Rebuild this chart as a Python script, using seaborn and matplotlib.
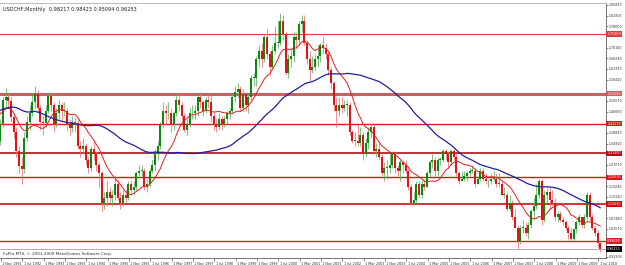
import numpy as np
import pandas as pd
import matplotlib
matplotlib.use("Agg")
import matplotlib.pyplot as plt
import matplotlib.transforms as mtransforms
import seaborn as sns

# ---------------- data ----------------
# monthly closes before the visible range (Sep 1987 - Oct 1991), only used to warm up the moving averages
pre_closes = [1.50, 1.42, 1.31, 1.28,
              1.37, 1.39, 1.37, 1.38, 1.41, 1.47, 1.52, 1.57, 1.55, 1.47, 1.41, 1.50,
              1.60, 1.57, 1.65, 1.71, 1.74, 1.70, 1.62, 1.66, 1.60, 1.62, 1.58, 1.54,
              1.49, 1.49, 1.51, 1.45, 1.43, 1.41, 1.33, 1.30, 1.30, 1.27, 1.26, 1.28,
              1.26, 1.38, 1.44, 1.47, 1.48, 1.56, 1.54, 1.52, 1.46, 1.47]

first_open = 1.47  # open of Nov 1991

# Monthly bars Nov 1991 .. Oct 2010
closes = [1.400, 1.360,
          1.420, 1.510, 1.520, 1.505, 1.445, 1.390, 1.320, 1.265, 1.255, 1.370, 1.430, 1.460,
          1.500, 1.530, 1.480, 1.430, 1.425, 1.470, 1.525, 1.490, 1.420, 1.460, 1.490, 1.470,
          1.470, 1.420, 1.405, 1.430, 1.425, 1.340, 1.330, 1.340, 1.290, 1.260, 1.330, 1.310,
          1.270, 1.240, 1.130, 1.150, 1.170, 1.150, 1.160, 1.200, 1.150, 1.130, 1.160, 1.150,
          1.200, 1.180, 1.190, 1.240, 1.250, 1.250, 1.190, 1.200, 1.250, 1.270, 1.310, 1.340,
          1.420, 1.470, 1.460, 1.460, 1.420, 1.460, 1.510, 1.490, 1.450, 1.400, 1.420, 1.460,
          1.460, 1.470, 1.520, 1.500, 1.470, 1.510, 1.500, 1.450, 1.420, 1.410, 1.440, 1.420,
          1.440, 1.460, 1.470, 1.520, 1.540, 1.550, 1.480, 1.530, 1.490, 1.520, 1.590, 1.590,
          1.660, 1.690, 1.660, 1.740, 1.680, 1.630, 1.690, 1.720, 1.720, 1.800, 1.750, 1.610,
          1.660, 1.670, 1.740, 1.730, 1.790, 1.800, 1.720, 1.660, 1.620, 1.630, 1.660, 1.670,
          1.710, 1.700, 1.680, 1.620, 1.570, 1.490, 1.470, 1.490, 1.480, 1.490, 1.490, 1.390,
          1.360, 1.360, 1.350, 1.380, 1.310, 1.350, 1.390, 1.410, 1.320, 1.330, 1.300, 1.240,
          1.260, 1.260, 1.270, 1.310, 1.260, 1.250, 1.280, 1.270, 1.250, 1.190, 1.130, 1.140,
          1.200, 1.160, 1.200, 1.190, 1.240, 1.280, 1.290, 1.250, 1.290, 1.290, 1.320, 1.310,
          1.280, 1.320, 1.300, 1.240, 1.210, 1.220, 1.230, 1.240, 1.250, 1.250, 1.200, 1.220,
          1.250, 1.220, 1.210, 1.210, 1.220, 1.220, 1.200, 1.200, 1.160, 1.160, 1.110, 1.130,
          1.080, 1.040, 0.990, 1.040, 1.040, 1.020, 1.050, 1.100, 1.120, 1.160, 1.210, 1.070,
          1.160, 1.170, 1.140, 1.130, 1.080, 1.090, 1.070, 1.060, 1.040, 1.020, 1.000, 1.035,
          1.060, 1.080, 1.050, 1.080, 1.160, 1.080, 1.040, 1.020, 0.982, 0.9625]

highs = [1.475, 1.410,
         1.440, 1.520, 1.555, 1.540, 1.520, 1.460, 1.410, 1.340, 1.300, 1.390, 1.450, 1.490,
         1.530, 1.560, 1.545, 1.490, 1.450, 1.490, 1.540, 1.540, 1.500, 1.480, 1.510, 1.500,
         1.500, 1.480, 1.440, 1.450, 1.445, 1.440, 1.360, 1.370, 1.350, 1.300, 1.340, 1.360,
         1.320, 1.280, 1.250, 1.170, 1.210, 1.190, 1.180, 1.230, 1.220, 1.170, 1.180, 1.180,
         1.210, 1.210, 1.210, 1.250, 1.270, 1.270, 1.260, 1.220, 1.260, 1.290, 1.330, 1.360,
         1.430, 1.500, 1.490, 1.500, 1.480, 1.470, 1.530, 1.540, 1.500, 1.460, 1.440, 1.480,
         1.490, 1.490, 1.530, 1.540, 1.510, 1.520, 1.530, 1.530, 1.470, 1.440, 1.460, 1.450,
         1.450, 1.470, 1.480, 1.530, 1.560, 1.570, 1.560, 1.550, 1.540, 1.530, 1.600, 1.610,
         1.670, 1.710, 1.720, 1.750, 1.770, 1.690, 1.710, 1.780, 1.800, 1.829, 1.820, 1.760,
         1.680, 1.700, 1.760, 1.760, 1.800, 1.820, 1.820, 1.730, 1.690, 1.670, 1.680, 1.710,
         1.720, 1.740, 1.720, 1.690, 1.630, 1.580, 1.520, 1.520, 1.520, 1.510, 1.510, 1.500,
         1.400, 1.390, 1.420, 1.410, 1.390, 1.370, 1.410, 1.420, 1.420, 1.350, 1.360, 1.310,
         1.280, 1.290, 1.310, 1.320, 1.320, 1.270, 1.290, 1.290, 1.290, 1.260, 1.200, 1.170,
         1.210, 1.210, 1.210, 1.220, 1.250, 1.290, 1.310, 1.300, 1.300, 1.300, 1.330, 1.330,
         1.320, 1.330, 1.330, 1.310, 1.250, 1.250, 1.250, 1.250, 1.260, 1.270, 1.260, 1.230,
         1.260, 1.260, 1.240, 1.220, 1.240, 1.250, 1.240, 1.240, 1.210, 1.190, 1.170, 1.160,
         1.140, 1.110, 1.050, 1.050, 1.070, 1.060, 1.060, 1.110, 1.150, 1.200, 1.220, 1.220,
         1.180, 1.190, 1.190, 1.180, 1.150, 1.100, 1.100, 1.080, 1.070, 1.050, 1.040, 1.040,
         1.070, 1.090, 1.080, 1.090, 1.170, 1.170, 1.090, 1.050, 1.030, 0.98423]

lows = [1.385, 1.330,
        1.345, 1.410, 1.480, 1.480, 1.430, 1.370, 1.300, 1.240, 1.200, 1.240, 1.360, 1.400,
        1.450, 1.480, 1.460, 1.400, 1.380, 1.410, 1.460, 1.470, 1.390, 1.410, 1.440, 1.430,
        1.450, 1.400, 1.380, 1.390, 1.390, 1.330, 1.300, 1.310, 1.270, 1.240, 1.250, 1.290,
        1.250, 1.190, 1.100, 1.110, 1.120, 1.130, 1.120, 1.140, 1.140, 1.110, 1.120, 1.130,
        1.140, 1.160, 1.160, 1.180, 1.230, 1.230, 1.180, 1.170, 1.190, 1.240, 1.250, 1.290,
        1.330, 1.410, 1.420, 1.440, 1.390, 1.400, 1.450, 1.470, 1.430, 1.390, 1.380, 1.410,
        1.440, 1.440, 1.450, 1.480, 1.450, 1.460, 1.480, 1.430, 1.400, 1.390, 1.400, 1.400,
        1.410, 1.420, 1.440, 1.460, 1.500, 1.520, 1.470, 1.470, 1.470, 1.460, 1.510, 1.560,
        1.560, 1.630, 1.630, 1.650, 1.660, 1.600, 1.620, 1.680, 1.700, 1.710, 1.730, 1.600,
        1.590, 1.630, 1.650, 1.700, 1.710, 1.760, 1.710, 1.640, 1.580, 1.610, 1.620, 1.630,
        1.650, 1.680, 1.660, 1.600, 1.550, 1.470, 1.410, 1.450, 1.460, 1.470, 1.450, 1.380,
        1.350, 1.340, 1.340, 1.340, 1.290, 1.300, 1.330, 1.370, 1.310, 1.300, 1.290, 1.230,
        1.210, 1.220, 1.240, 1.260, 1.240, 1.230, 1.210, 1.240, 1.240, 1.180, 1.125, 1.125,
        1.130, 1.150, 1.150, 1.180, 1.190, 1.230, 1.260, 1.230, 1.230, 1.270, 1.280, 1.290,
        1.260, 1.270, 1.290, 1.230, 1.200, 1.210, 1.210, 1.210, 1.230, 1.240, 1.190, 1.200,
        1.210, 1.210, 1.200, 1.190, 1.200, 1.210, 1.190, 1.190, 1.160, 1.150, 1.100, 1.100,
        1.070, 1.040, 0.960, 0.980, 1.020, 1.010, 1.000, 1.040, 1.070, 1.110, 1.150, 1.050,
        1.060, 1.130, 1.110, 1.120, 1.070, 1.060, 1.060, 1.050, 1.030, 1.000, 0.990, 0.995,
        1.020, 1.050, 1.040, 1.040, 1.070, 1.070, 1.030, 1.010, 0.970, 0.95094]

fast_period = 12
slow_period = 50

level_prices = [1.7520, 1.5325, 1.4227, 1.3130, 1.2251, 1.1263, 0.9909]
level_colors = ["#d84040", "#c86060", "#d02020", "#b01010", "#d01818", "#c81010", "#d82020"]
level_widths = [0.8, 2.2, 1.0, 1.2, 1.0, 1.2, 1.0]
bid_price = 0.96253

ytick_values = [1.8583, 1.8191, 1.7800, 1.7408, 1.7016, 1.6624, 1.6233, 1.5841, 1.5449,
                1.5057, 1.4666, 1.4274, 1.3882, 1.3491, 1.3099, 1.2707, 1.2315, 1.1924,
                1.1532, 1.1140, 1.0748, 1.0357, 0.9965, 0.9573, 0.9330]

xtick_labels = ["1 Nov 1991", "1 Jul 1992", "1 Mar 1993", "1 Nov 1993", "1 Jul 1994",
                "1 Mar 1995", "1 Nov 1995", "1 Jul 1996", "1 Mar 1997", "1 Nov 1997",
                "1 Jul 1998", "1 Mar 1999", "1 Nov 1999", "1 Jul 2000", "1 Mar 2001",
                "1 Nov 2001", "1 Jul 2002", "1 Mar 2003", "1 Nov 2003", "1 Jul 2004",
                "1 Mar 2005", "1 Nov 2005", "1 Jul 2006", "1 Mar 2007", "1 Nov 2007",
                "1 Jul 2008", "1 Mar 2009", "1 Nov 2009", "1 Jul 2010"]

title_text = "USDCHF,Monthly  0.98217 0.98423 0.95094 0.96253"
copyright_text = "FxPro MT4, \u00a9 2001-2009 MetaQuotes Software Corp."

# ---------------- figure ----------------
sns.set_theme(style="white")
plt.rcParams["font.family"] = ["DejaVu Sans"]

W, H = 625, 265
PX_PER_BAR = 2.667
fig = plt.figure(figsize=(W / 100, H / 100), dpi=100)
fig.patch.set_facecolor("white")
AX_RIGHT = 606
ax = fig.add_axes([0.0 / W, (H - 258) / H, AX_RIGHT / W, 255 / H])
ax.set_facecolor("white")

n = len(closes)
x = np.arange(n)
opens = [first_open] + closes[:-1]

df = pd.DataFrame({"x": x, "open": opens, "high": highs, "low": lows, "close": closes})
all_close = pd.Series(pre_closes + closes)
df["fast"] = all_close.rolling(fast_period).mean().values[-n:]
df["slow"] = all_close.rolling(slow_period).mean().values[-n:]

bull = df["close"] >= df["open"]
body_col = np.where(bull, "#0b8a0b", "#e01414")
wick_col = np.where(bull, "#5fb05f", "#ee7070")

ax.vlines(df["x"], df["low"], df["high"], colors=wick_col, linewidth=0.55, zorder=2)
bottoms = np.minimum(df["open"], df["close"])
heights = np.maximum(np.abs(df["close"] - df["open"]), 0.003)
ax.bar(df["x"], heights, bottom=bottoms, width=0.72, color=body_col, linewidth=0, zorder=3)

sns.lineplot(data=df, x="x", y="fast", color="#e02020", linewidth=0.7, ax=ax, zorder=4)
sns.lineplot(data=df, x="x", y="slow", color="#20209a", linewidth=0.9, ax=ax, zorder=4)

for p, c, w in zip(level_prices, level_colors, level_widths):
    ax.axhline(p, color=c, linewidth=w, zorder=1)
ax.axhline(bid_price, color="#a0a0a0", linewidth=0.6, zorder=1)

x_left = 1.875
ax.set_xlim(x_left, x_left + AX_RIGHT / PX_PER_BAR)
ymin, ymax = 0.9286, 1.8656
ax.set_ylim(ymin, ymax)

# axes styling
ax.spines["left"].set_visible(False)
for s, c in [("right", "#606060"), ("bottom", "#606060"), ("top", "#b0b0b0")]:
    ax.spines[s].set_visible(True)
    ax.spines[s].set_color(c)
    ax.spines[s].set_linewidth(0.6)
ax.set_xlabel("")
ax.set_ylabel("")

# y tick labels: those hidden under the price boxes are not shown
px_per_price = 255 / (ymax - ymin)
box_prices = level_prices + [bid_price]
shown = [v for v in ytick_values if min(abs(v - b) for b in box_prices) * px_per_price > 5.5]
ax.yaxis.tick_right()
ax.set_yticks(shown)
ax.set_yticklabels([f"{v:.5f}" for v in shown])
ax.tick_params(axis="y", right=True, length=1.2, width=0.5, color="#606060",
               labelsize=2.3, pad=0.5, labelcolor="#303030")

xtick_pos = [2.25 + 8 * k for k in range(len(xtick_labels))]
ax.set_xticks(xtick_pos)
ax.set_xticklabels(xtick_labels, ha="left")
ax.tick_params(axis="x", bottom=True, length=2.5, width=0.5, color="#606060",
               labelsize=2.4, pad=0.4, labelcolor="#303030")
for lab in ax.get_xticklabels():
    lab.set_transform(lab.get_transform() + mtransforms.ScaledTranslation(1.2 / 100, 0, fig.dpi_scale_trans))

# price boxes on the right axis
tr = mtransforms.blended_transform_factory(ax.transAxes, ax.transData)
for p, c in zip(level_prices, level_colors):
    ax.text(1.002, p, f"{p:.5f}", transform=tr, fontsize=2.3, color="white", va="center", ha="left",
            bbox=dict(boxstyle="square,pad=0.25", fc=c, ec="none"), clip_on=False, zorder=6)
ax.text(1.002, bid_price, f"{bid_price:.5f}", transform=tr, fontsize=2.3, color="white", va="center",
        ha="left", bbox=dict(boxstyle="square,pad=0.25", fc="black", ec="none"),
        clip_on=False, zorder=6)

ax.text(0.005, 0.985, title_text, transform=ax.transAxes, fontsize=3.6, color="#202020",
        va="top", ha="left")
ax.text(0.005, 0.006, copyright_text, transform=ax.transAxes, fontsize=3.0, color="#303030",
        va="bottom", ha="left")

fig.savefig("out.png", dpi=100, facecolor="white")
